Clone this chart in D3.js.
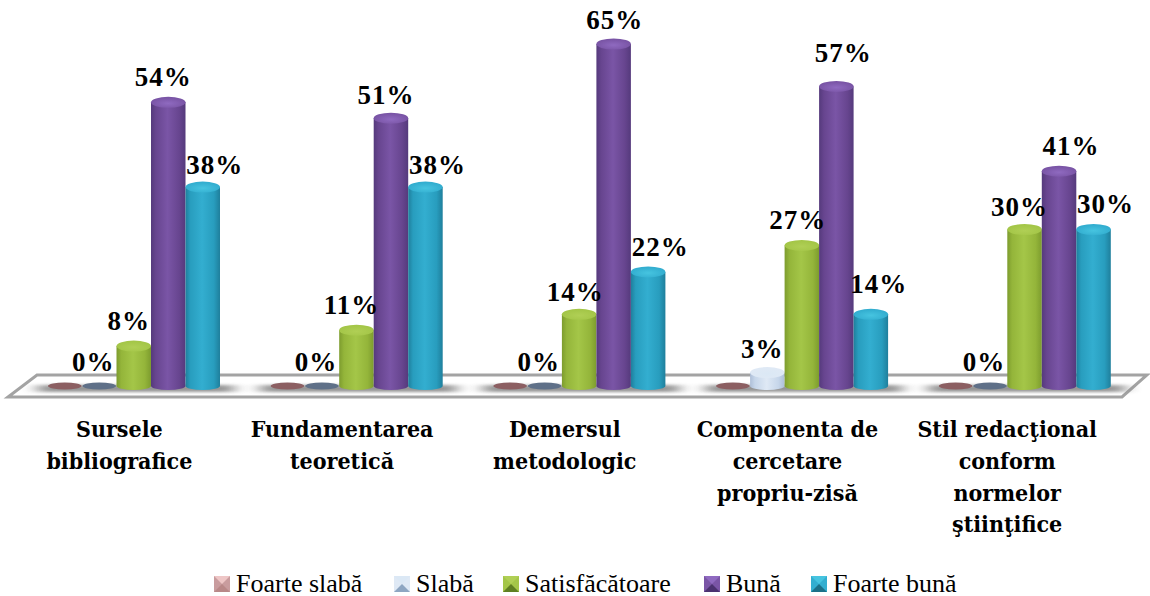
<!DOCTYPE html>
<html><head><meta charset="utf-8">
<script src="https://cdn.jsdelivr.net/npm/d3@7"></script>
<style>html,body{margin:0;background:#fff}svg{display:block}</style></head>
<body><svg id="c" width="1150" height="596"></svg>
<script>
const categories=[["Sursele","bibliografice"],["Fundamentarea","teoretică"],["Demersul","metodologic"],["Componenta de","cercetare","propriu-zisă"],["Stil redacţional","conform","normelor","ştiinţifice"]];
const seriesNames=["Foarte slabă","Slabă","Satisfăcătoare","Bună","Foarte bună"];
const foarteSlaba=[0,0,0,0,0];
const slaba=[0,0,0,3,0];
const satisfacatoare=[8,11,14,27,30];
const buna=[54,51,65,57,41];
const foarteBuna=[38,38,22,14,30];
const seriesValues=[foarteSlaba,slaba,satisfacatoare,buna,foarteBuna];
const palette=[
 {edge:"#a87c7e",body:"#b98c8e",mid:"#c99c9e",flat:"#8c5f62",lite:"#eec6c6",dark:"#b98888"},
 {edge:"#aebfd8",body:"#c6d6ea",mid:"#dfe9f5",flat:"#5f7088",lite:"#dbe8f5",dark:"#8ea6c2"},
 {edge:"#7d9c2e",body:"#94b53a",mid:"#a4c648",flat:"#9bbb3b",lite:"#b0cf55",dark:"#5f7f22"},
 {edge:"#553a7c",body:"#67458f",mid:"#7a55a6",flat:"#6c4896",lite:"#8f6ac0",dark:"#4b3270"},
 {edge:"#1f7f9c",body:"#289dbe",mid:"#33aed0",flat:"#2ba3c4",lite:"#46c4e0",dark:"#1c7088"}];
const labelSeries=[false,true,true,true,true];
// manual label offsets of the original chart [dx, extra dy] per series/category
const labelDx=[[0,0,0,0,0],[-6,-6,-6,-5,-6],[-5,-5,-4,-4,-5],[-5,-5,1,7,12],[12,12,12,8,12]];
const labelDy=[[0,0,0,0,0],[0,0,0,-1,0],[0,0,-3,0,-2],[0,-2,-1,8,0],[-3,-3,0,5,1]];
const catDx=[0,0,0,0,-3];

const svg=d3.select("#c"),defs=svg.append("defs");
const blur=defs.append("filter").attr("id","blur").attr("x","-15%").attr("y","-150%").attr("width","130%").attr("height","400%");
blur.append("feGaussianBlur").attr("stdDeviation","8 1.6");
palette.forEach((p,i)=>{
 const g=defs.append("linearGradient").attr("id","cyl"+i);
 [[0,p.edge],[.14,p.body],[.48,p.mid],[.82,p.body],[1,p.edge]].forEach(s=>g.append("stop").attr("offset",s[0]).attr("stop-color",s[1]));
 const t=defs.append("radialGradient").attr("id","top"+i).attr("cy","0.6");
 t.append("stop").attr("offset",0).attr("stop-color",p.lite);
 t.append("stop").attr("offset",1).attr("stop-color",p.mid);
});

const x0=d3.scaleBand().domain(d3.range(5)).range([9,1122.5]);
const x1=d3.scaleBand().domain(d3.range(5)).range([38.5,211]);
const y=d3.scaleLinear().domain([0,65]).range([388.5,44]);
const ry=5.5, baseY=386, baseRy=4, zeroY=386;

// floor
const floor=d3.line()([[37,375],[1147,375],[1122,397],[8,397]]);
svg.append("path").attr("d",floor+"Z").attr("fill","#fff").attr("stroke","#a3a3a3").attr("stroke-width",3);
d3.range(5).forEach(c=>{
 svg.append("rect").attr("x",x0(c)+x1(0)-10).attr("width",x1.bandwidth()*5+24).attr("y",385).attr("height",7)
  .attr("fill","#8a8a8a").attr("opacity",.9).attr("filter","url(#blur)");
});

// bars
seriesValues.forEach((vals,s)=>{
 const g=svg.append("g");
 vals.forEach((v,c)=>{
  const l=x0(c)+x1(s),w=x1.bandwidth(),cx=l+w/2,rx=w/2;
  if(v===0){
   g.append("ellipse").attr("cx",cx).attr("cy",zeroY).attr("rx",rx-.5).attr("ry",3.5).attr("fill",palette[s].flat);
   return;
  }
  const t=y(v);
  g.append("path").attr("d",`M${l},${t}V${baseY}A${rx},${baseRy} 0 0 0 ${l+w},${baseY}V${t}Z`).attr("fill",`url(#cyl${s})`);
  g.append("ellipse").attr("cx",cx).attr("cy",t).attr("rx",rx).attr("ry",ry).attr("fill",`url(#top${s})`);
 });
});

// data labels
seriesValues.forEach((vals,s)=>{ if(!labelSeries[s]) return; vals.forEach((v,c)=>{
 const cx=x0(c)+x1(s)+x1.bandwidth()/2;
 svg.append("text").attr("x",cx+labelDx[s][c]).attr("y",(v===0?371:y(v)-16)-labelDy[s][c])
  .attr("text-anchor","middle").attr("font-family","'Liberation Serif'").attr("font-weight","bold")
  .attr("font-size",27).attr("letter-spacing",1).attr("fill","#000").text(v+"%");
});});

// category labels
categories.forEach((lines,c)=>{
 const t=svg.append("text").attr("text-anchor","middle").attr("font-family","'DejaVu Serif'").attr("font-weight","bold")
  .attr("font-size",23).attr("fill","#000").style("font-stretch","condensed");
 lines.forEach((ln,i)=>t.append("tspan").attr("x",x0(c)+x0.bandwidth()/2-1+catDx[c]).attr("y",437+i*31.8).text(ln));
});

// legend
const legendX=[214,394,503,704,811];
seriesNames.forEach((n,s)=>{
 const g=svg.append("g").attr("transform",`translate(${legendX[s]},576)`),p=palette[s],k=16;
 g.append("rect").attr("width",k).attr("height",k).attr("fill",p.mid);
 g.append("path").attr("d",`M0,0H${k}L${k/2},${k/2}Z`).attr("fill",p.lite);
 g.append("path").attr("d",`M0,${k}H${k}L${k/2},${k/2}Z`).attr("fill",p.dark);
 g.append("text").attr("x",k+6).attr("y",15.5).attr("font-family","'Liberation Serif'").attr("font-size",26).attr("fill","#000").text(n);
});
</script></body></html>
